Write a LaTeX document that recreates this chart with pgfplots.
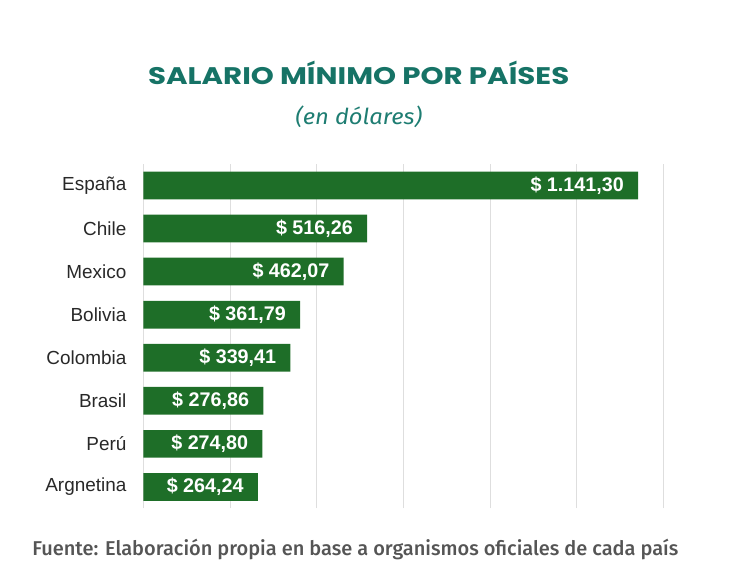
\documentclass[border=0pt]{standalone}
\usepackage{fontspec}
\usepackage{pgfplots}
\pgfplotsset{compat=1.18}
\setmainfont{Liberation Sans}
\newfontfamily\titlefont{Poppins}
\newfontfamily\subfont{Fira Sans}
\newfontfamily\footfont{Fira Sans Medium}

\definecolor{teal1}{RGB}{22,115,102}
\definecolor{teal2}{RGB}{30,125,114}
\definecolor{bargreen}{RGB}{30,110,40}
\definecolor{footgray}{RGB}{85,85,85}
\definecolor{labelgray}{RGB}{40,40,40}
\definecolor{gridgray}{RGB}{222,222,222}

\begin{document}
\begin{tikzpicture}
% canvas 730x579 px at 0.75pt per px
\path (0,0) rectangle (547.5pt,434.25pt);

\node[anchor=base, text=teal1, inner sep=0pt] at (269pt,371pt)
  {\scalebox{1.22}[1]{\titlefont\bfseries\fontsize{18pt}{20pt}\selectfont SALARIO MÍNIMO POR PAÍSES}};
\node[anchor=base, text=teal2, inner sep=0pt] at (269pt,341pt)
  {\scalebox{1.08}[1]{\subfont\itshape\fontsize{16.5pt}{19pt}\selectfont (en dólares)}};
\node[anchor=base west, text=footgray, inner sep=0pt] at (24pt,18pt)
  {\footfont\fontsize{15pt}{16pt}\selectfont Fuente: Elaboración propia en base a organismos oficiales de cada país};

\begin{axis}[
    at={(107.5pt,52.9pt)}, anchor=south west,
    scale only axis,
    width=390.15pt, height=258.4pt,
    xbar, bar width=20.8pt,
    xmin=0, xmax=1200,
    ymin=-0.5, ymax=7.5,
    xtick={0,200,...,1200}, xticklabels={},
    xmajorgrids, major grid style={gridgray, line width=0.8pt},
    ytick={0,...,7},
    yticklabels={Argnetina,Perú,Brasil,Colombia,Bolivia,Mexico,Chile,España},
    yticklabel style={font=\fontsize{14.2pt}{15pt}\selectfont, text=labelgray, inner xsep=0pt},
    ytick style={draw=none}, xtick style={draw=none},
    axis line style={draw=none},
    y tick label style={xshift=-8.25pt},
    point meta=explicit symbolic,
    nodes near coords,
    nodes near coords style={anchor=east, xshift=-7.2pt, text=white,
        font=\bfseries\fontsize{14.8pt}{16pt}\selectfont},
]
\addplot[fill=bargreen, draw=none] coordinates {
    (264.24,0) [\$ 264,24]
    (274.80,1) [\$ 274,80]
    (276.86,2) [\$ 276,86]
    (339.41,3) [\$ 339,41]
    (361.79,4) [\$ 361,79]
    (462.07,5) [\$ 462,07]
    (516.26,6) [\$ 516,26]
    (1141.30,7) [\$ 1.141,30]
};
\end{axis}
\end{tikzpicture}
\end{document}
